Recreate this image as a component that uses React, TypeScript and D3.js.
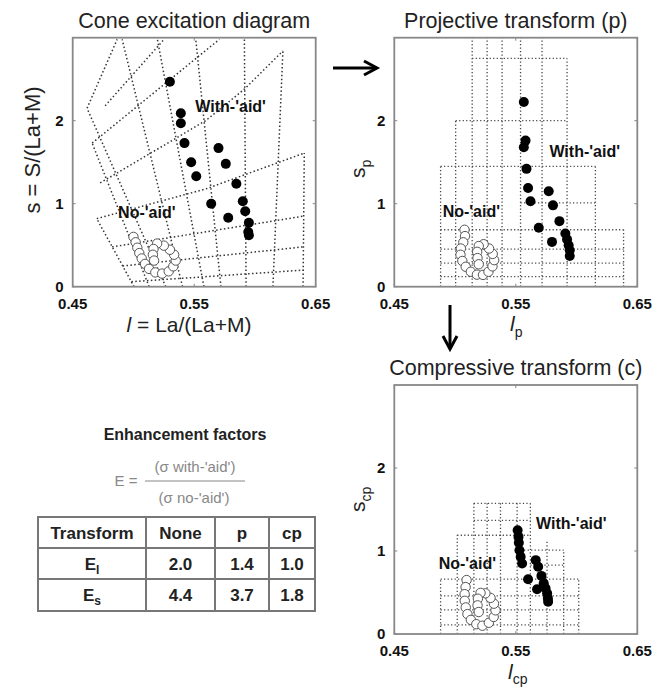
import React from "react";
import * as d3 from "d3";

type Pt = [number, number];

// ---------- cone excitation diagram (l, s) ----------
const coneWithAid: Pt[] = [
  [0.530, 2.47], [0.539, 2.09], [0.539, 1.97], [0.542, 1.73], [0.570, 1.67],
  [0.5475, 1.50], [0.576, 1.48], [0.5517, 1.33], [0.5847, 1.24], [0.564, 1.00],
  [0.590, 1.03], [0.592, 0.91], [0.578, 0.83], [0.595, 0.77], [0.5945, 0.66], [0.595, 0.62],
];
const coneNoAid: Pt[] = [
  [0.5000, 0.60], [0.5018, 0.535], [0.5032, 0.47], [0.5048, 0.405], [0.5068, 0.34],
  [0.5095, 0.275], [0.5128, 0.215], [0.5180, 0.172], [0.5236, 0.158], [0.5290, 0.185],
  [0.5328, 0.245], [0.5348, 0.315], [0.5335, 0.385], [0.5300, 0.445], [0.5250, 0.495],
  [0.5195, 0.52], [0.5165, 0.455], [0.5160, 0.385], [0.5170, 0.315],
];
// warped grid, one polyline per line, in (l, s)
const coneGrid: Pt[][] = [
  [[0.5005, 0.0], [0.4698, 0.82]],
  [[0.5129, 0.0], [0.4660, 1.73]],
  [[0.5266, 0.0], [0.4618, 2.15]],
  [[0.5404, 0.0], [0.4907, 2.98]],
  [[0.5580, 0.0], [0.5197, 2.98]],
  [[0.5720, 0.0], [0.5513, 2.98]],
  [[0.5927, 0.0], [0.5913, 2.98]],
  [[0.6148, 0.0], [0.6230, 2.84]],
  [[0.6396, 0.0], [0.6406, 1.61]],
  [[0.4983, 0.06], [0.6398, 0.20]],
  [[0.4911, 0.25], [0.6399, 0.48]],
  [[0.4825, 0.48], [0.6400, 0.85]],
  [[0.4698, 0.82], [0.5600, 1.18], [0.6406, 1.61]],
  [[0.4726, 1.25], [0.5594, 2.0], [0.5913, 2.38], [0.6230, 2.84]],
  [[0.4660, 1.73], [0.5707, 2.98]],
  [[0.4618, 2.15], [0.4866, 2.98]],
  [[0.4767, 2.18], [0.5252, 2.98]],
];

// ---------- projective transform (lp, sp) ----------
const projWithAid: Pt[] = [
  [0.5566, 2.225], [0.558, 1.76], [0.5566, 1.68], [0.5588, 1.42], [0.5601, 1.19],
  [0.5621, 1.03], [0.5771, 1.15], [0.5806, 0.98], [0.5859, 0.79], [0.5689, 0.71],
  [0.5798, 0.54], [0.5908, 0.64], [0.5922, 0.57], [0.5935, 0.50], [0.5944, 0.44], [0.5944, 0.37],
];
const projNoAid: Pt[] = [
  [0.5078, 0.686], [0.5082, 0.61], [0.5068, 0.535], [0.5048, 0.46], [0.5045, 0.385],
  [0.5060, 0.31], [0.5088, 0.24], [0.5130, 0.18], [0.5180, 0.145], [0.5230, 0.142],
  [0.5275, 0.18], [0.5308, 0.245], [0.5322, 0.32], [0.5310, 0.395], [0.5280, 0.46],
  [0.5235, 0.512], [0.5195, 0.49], [0.5182, 0.42], [0.5185, 0.345], [0.5195, 0.27],
];
// [lp, sp from, sp to]
const projGridVert: number[][] = [
  [0.4881, 0, 1.45], [0.5005, 0, 2.0], [0.5141, 0, 3], [0.5264, 0, 3], [0.5387, 0, 3],
  [0.5539, 0, 3], [0.5716, 0, 3], [0.5922, 0, 2.75], [0.6155, 0, 1.45], [0.6387, 0, 0.686],
];
// [sp, lp from, lp to]
const projGridHoriz: number[][] = [
  [0.121, 0.4881, 0.6387], [0.283, 0.4881, 0.6387], [0.452, 0.4881, 0.6387],
  [0.686, 0.4881, 0.6387], [1.01, 0.5539, 0.6155], [1.45, 0.4881, 0.6155],
  [2.0, 0.5005, 0.5922], [2.75, 0.5141, 0.5922],
];

// ---------- compressive transform (lcp, scp) ----------
const compWithAid: Pt[] = [
  [0.5515, 1.25], [0.5522, 1.17], [0.5525, 1.10], [0.5530, 1.01], [0.5540, 0.93],
  [0.5552, 0.85], [0.5664, 0.89], [0.5684, 0.81], [0.5711, 0.70], [0.5601, 0.66],
  [0.5675, 0.54], [0.5730, 0.61], [0.5745, 0.55], [0.5758, 0.49], [0.5764, 0.43], [0.5766, 0.39],
];
const compNoAid: Pt[] = [
  [0.5095, 0.65], [0.5087, 0.565], [0.5079, 0.48], [0.5080, 0.40], [0.5088, 0.32],
  [0.5102, 0.24], [0.5130, 0.17], [0.5175, 0.118], [0.5225, 0.10], [0.5278, 0.135],
  [0.5318, 0.205], [0.5333, 0.285], [0.5320, 0.365], [0.5292, 0.435], [0.5250, 0.49],
  [0.5210, 0.495], [0.5188, 0.425], [0.5185, 0.345], [0.5195, 0.265],
];
const compGridVert: number[][] = [
  [0.4881, 0, 0.66], [0.5018, 0, 1.19], [0.5155, 0, 1.575], [0.5264, 0, 1.575], [0.5374, 0, 1.575],
  [0.5511, 0, 1.575], [0.562, 0, 1.575], [0.5757, 0, 1.12], [0.5894, 0, 1.01], [0.6018, 0, 0.66],
];
const compGridHoriz: number[][] = [
  [0.11, 0.4881, 0.6018], [0.29, 0.4881, 0.6018], [0.46, 0.4881, 0.6018], [0.66, 0.4881, 0.6018],
  [0.83, 0.562, 0.5894], [1.01, 0.5511, 0.5894], [1.19, 0.5018, 0.562], [1.37, 0.5155, 0.562],
  [1.575, 0.5155, 0.562],
];

const xTicks = [0.45, 0.55, 0.65];
const yTicks = [0, 1, 2];

// ---------- enhancement factor table ----------
const tableHeader = ["Transform", "None", "p", "cp"];
const tableRows = [
  { name: "E", sub: "l", values: ["2.0", "1.4", "1.0"] },
  { name: "E", sub: "s", values: ["4.4", "3.7", "1.8"] },
];

const FONT = "'Liberation Sans', Arial, Helvetica, sans-serif";

const toLines = (vert: number[][], horiz: number[][]): Pt[][] => [
  ...vert.map((v) => [[v[0], v[1]], [v[0], v[2]]] as Pt[]),
  ...horiz.map((h) => [[h[1], h[0]], [h[2], h[0]]] as Pt[]),
];

type PanelProps = {
  id: string;
  left: number;
  top: number;
  title: string;
  grid: Pt[][];
  open: Pt[];
  filled: Pt[];
  withPos: Pt;
  noPos: Pt;
  dash: string;
  gridColor: string;
  gridWidth: number;
};

const PW = 243;
const PH = 249;

const Panel = ({ id, left, top, title, grid, open, filled, withPos, noPos, dash, gridColor, gridWidth }: PanelProps) => {
  const x = d3.scaleLinear().domain([0.45, 0.65]).range([left, left + PW]);
  const y = d3.scaleLinear().domain([0, 3]).range([top + PH, top]);
  const line = d3.line<Pt>().x((d) => x(d[0])).y((d) => y(d[1]));
  return (
    <g>
      <clipPath id={id}>
        <rect x={left} y={top} width={PW} height={PH} />
      </clipPath>
      <text x={x(0.55)} y={top - 10} textAnchor="middle" fontSize={21.5} fill="#222">
        {title}
      </text>
      <g clipPath={`url(#${id})`}>
        {grid.map((g, i) => (
          <path key={i} d={line(g) || ""} fill="none"
            stroke={gridColor} strokeWidth={gridWidth} strokeDasharray={dash} />
        ))}
        {open.map((p, i) => (
          <circle key={"o" + i} cx={x(p[0])} cy={y(p[1])} r={4.7} fill="white" stroke="#555" strokeWidth={1} />
        ))}
        {filled.map((p, i) => (
          <circle key={"f" + i} cx={x(p[0])} cy={y(p[1])} r={5} fill="#000" />
        ))}
      </g>
      <rect x={left} y={top} width={PW} height={PH} fill="none" stroke="#888" strokeWidth={1.8} />
      {xTicks.map((t) => (
        <g key={"x" + t}>
          <line x1={x(t)} x2={x(t)} y1={top + PH} y2={top + PH - 3} stroke="#888" />
          <line x1={x(t)} x2={x(t)} y1={top} y2={top + 3} stroke="#888" />
          <text x={x(t)} y={top + PH + 22} textAnchor="middle" fontSize={15} fontWeight="bold" fill="#111">
            {t.toFixed(2)}
          </text>
        </g>
      ))}
      {yTicks.map((t) => (
        <g key={"y" + t}>
          <line x1={left} x2={left + 3} y1={y(t)} y2={y(t)} stroke="#888" />
          <line x1={left + PW} x2={left + PW - 3} y1={y(t)} y2={y(t)} stroke="#888" />
          <text x={left - 9} y={y(t) + 5} textAnchor="end" fontSize={15} fontWeight="bold" fill="#111">
            {t}
          </text>
        </g>
      ))}
      <text x={x(withPos[0])} y={y(withPos[1])} textAnchor="middle" dominantBaseline="central"
        fontSize={16} fontWeight="bold" fill="#111">
        With-'aid'
      </text>
      <text x={x(noPos[0])} y={y(noPos[1])} textAnchor="middle" dominantBaseline="central"
        fontSize={16} fontWeight="bold" fill="#111">
        No-'aid'
      </text>
    </g>
  );
};

const App = () => {
  const colX = [38, 146, 215, 269, 315];
  const rowY = [517, 548, 579, 611];
  return (
    <svg width={670} height={688} style={{ position: "absolute", left: 0, top: 0, background: "#fff" }}
      fontFamily={FONT}>
      <Panel id="c1" left={72.7} top={37.7} title="Cone excitation diagram" grid={coneGrid}
        open={coneNoAid} filled={coneWithAid} withPos={[0.580, 2.17]} noPos={[0.511, 0.90]}
        dash="1.5 2.4" gridColor="#333" gridWidth={1.5} />
      <Panel id="c2" left={394.3} top={37.7} title="Projective transform (p)"
        grid={toLines(projGridVert, projGridHoriz)}
        open={projNoAid} filled={projWithAid} withPos={[0.6067, 1.63]} noPos={[0.5134, 0.907]}
        dash="1.2 2.3" gridColor="#444" gridWidth={1.3} />
      <Panel id="c3" left={394.3} top={385} title="Compressive transform (c)"
        grid={toLines(compGridVert, compGridHoriz)}
        open={compNoAid} filled={compWithAid} withPos={[0.5957, 1.33]} noPos={[0.5101, 0.85]}
        dash="1.2 2.3" gridColor="#444" gridWidth={1.3} />

      {/* axis labels */}
      <text x={189} y={332} textAnchor="middle" fontSize={21} fill="#222">
        <tspan fontStyle="italic">l</tspan> = La/(La+M)
      </text>
      <text transform="translate(40,150) rotate(-90)" textAnchor="middle" fontSize={22} fill="#222">
        s = S/(La+M)
      </text>
      <text x={510} y={331} fontSize={21} fill="#222">
        <tspan fontStyle="italic">l</tspan>
        <tspan fontSize={14} dy={6}>p</tspan>
      </text>
      <text transform="translate(365,178) rotate(-90)" fontSize={21} fill="#222">
        s<tspan fontSize={14} dy={6}>p</tspan>
      </text>
      <text x={508} y={679} fontSize={21} fill="#222">
        <tspan fontStyle="italic">l</tspan>
        <tspan fontSize={14} dy={5}>cp</tspan>
      </text>
      <text transform="translate(365,512) rotate(-90)" fontSize={21} fill="#222">
        s<tspan fontSize={14} dy={6}>cp</tspan>
      </text>

      {/* arrows */}
      <g stroke="#000" strokeWidth={3} fill="none">
        <line x1={333} y1={68} x2={377} y2={68} />
        <polyline points="364,61 377,68 364,75" />
        <line x1={450} y1={305} x2={450} y2={348} />
        <polyline points="443,336 450,349 457,336" />
      </g>

      {/* enhancement factors */}
      <text x={185} y={440} textAnchor="middle" fontSize={16} fontWeight="bold" fill="#222">
        Enhancement factors
      </text>
      <text x={126} y={486} textAnchor="middle" fontSize={15} fill="#888">E =</text>
      <text x={195} y={472} textAnchor="middle" fontSize={15} fill="#888">(σ with-'aid')</text>
      <line x1={145} x2={245} y1={481} y2={481} stroke="#888" strokeWidth={1.2} />
      <text x={194} y={503} textAnchor="middle" fontSize={15} fill="#888">(σ no-'aid')</text>

      <g stroke="#777" strokeWidth={2} fill="none">
        <rect x={colX[0]} y={rowY[0]} width={colX[4] - colX[0]} height={rowY[3] - rowY[0]} />
        {colX.slice(1, 4).map((cx) => (
          <line key={cx} x1={cx} x2={cx} y1={rowY[0]} y2={rowY[3]} />
        ))}
        {rowY.slice(1, 3).map((ry) => (
          <line key={ry} x1={colX[0]} x2={colX[4]} y1={ry} y2={ry} />
        ))}
      </g>
      {tableHeader.map((h, i) => (
        <text key={h} x={(colX[i] + colX[i + 1]) / 2} y={(rowY[0] + rowY[1]) / 2 + 6}
          textAnchor="middle" fontSize={17} fontWeight="bold" fill="#222">{h}</text>
      ))}
      {tableRows.map((r, ri) => (
        <g key={r.sub}>
          <text x={(colX[0] + colX[1]) / 2} y={(rowY[ri + 1] + rowY[ri + 2]) / 2 + 6}
            textAnchor="middle" fontSize={17} fontWeight="bold" fill="#222">
            {r.name}<tspan fontSize={12} dy={4}>{r.sub}</tspan>
          </text>
          {r.values.map((v, vi) => (
            <text key={vi} x={(colX[vi + 1] + colX[vi + 2]) / 2} y={(rowY[ri + 1] + rowY[ri + 2]) / 2 + 6}
              textAnchor="middle" fontSize={17} fontWeight="bold" fill="#222">{v}</text>
          ))}
        </g>
      ))}
    </svg>
  );
};

export default App;
